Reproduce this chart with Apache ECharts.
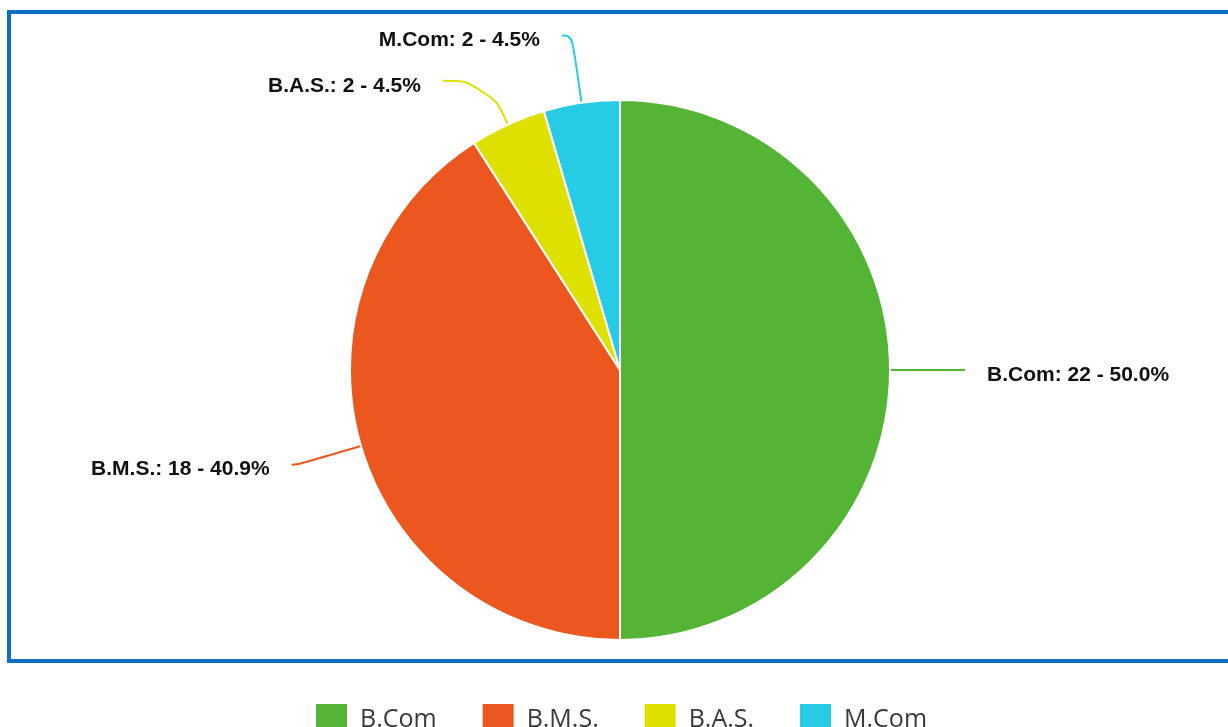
<!DOCTYPE html>
<html>
<head>
<meta charset="utf-8">
<style>
  html, body { margin: 0; padding: 0; background: #ffffff; }
  #chart { width: 1228px; height: 727px; }
</style>
<script src="https://cdn.jsdelivr.net/npm/echarts@6/dist/echarts.min.js"></script>
</head>
<body>
<div id="chart"></div>
<script>
// ---- data ----
const categories = ['B.Com', 'B.M.S.', 'B.A.S.', 'M.Com'];
const values = [22, 18, 2, 2];
const colors = ['#53b435', '#eb571e', '#dee000', '#27cbe6'];

// label line lengths per slice (styling, not data)
const lineLen = [40, 66, 48, 68];
const lineLen2 = [35, 6, 45, 10];

const total = values.reduce((a, b) => a + b, 0);

const chart = echarts.init(document.getElementById('chart'), null, { renderer: 'canvas' });

const option = {
  backgroundColor: '#ffffff',
  animation: false,
  graphic: [
    {
      type: 'rect',
      z: -1,
      shape: { x: 9, y: 12, width: 1240, height: 649 },
      style: { fill: 'none', stroke: '#0a6fc2', lineWidth: 4 }
    }
  ],
  legend: {
    top: 702,
    left: 314,
    padding: 0,
    itemWidth: 33,
    itemHeight: 33,
    itemGap: 44,
    icon: 'rect',
    data: categories,
    textStyle: {
      fontFamily: '"Open Sans", "Noto Sans", sans-serif',
      fontSize: 25,
      color: '#3a3a3a',
      padding: [0, 0, 0, 7]
    }
  },
  series: [
    {
      type: 'pie',
      center: [620, 370],
      radius: [0, 270],
      startAngle: 90,
      clockwise: true,
      avoidLabelOverlap: false,
      itemStyle: { borderColor: '#ffffff', borderWidth: 2 },
      label: {
        show: true,
        fontFamily: '"Liberation Sans", Arial, sans-serif',
        fontWeight: 'bold',
        fontSize: 21,
        color: '#111111',
        distanceToLabelLine: 22,
        offset: [0, 5],
        formatter: function (p) {
          return p.name + ': ' + p.value + ' - ' + (p.value / total * 100).toFixed(1) + '%';
        }
      },
      labelLine: { show: true, smooth: 0.5, lineStyle: { width: 2 } },
      emphasis: { disabled: true },
      data: categories.map((c, i) => ({
        name: c,
        value: values[i],
        itemStyle: { color: colors[i] },
        labelLine: { length: lineLen[i], length2: lineLen2[i], lineStyle: { color: colors[i] } }
      }))
    }
  ]
};

chart.setOption(option);
</script>
</body>
</html>
